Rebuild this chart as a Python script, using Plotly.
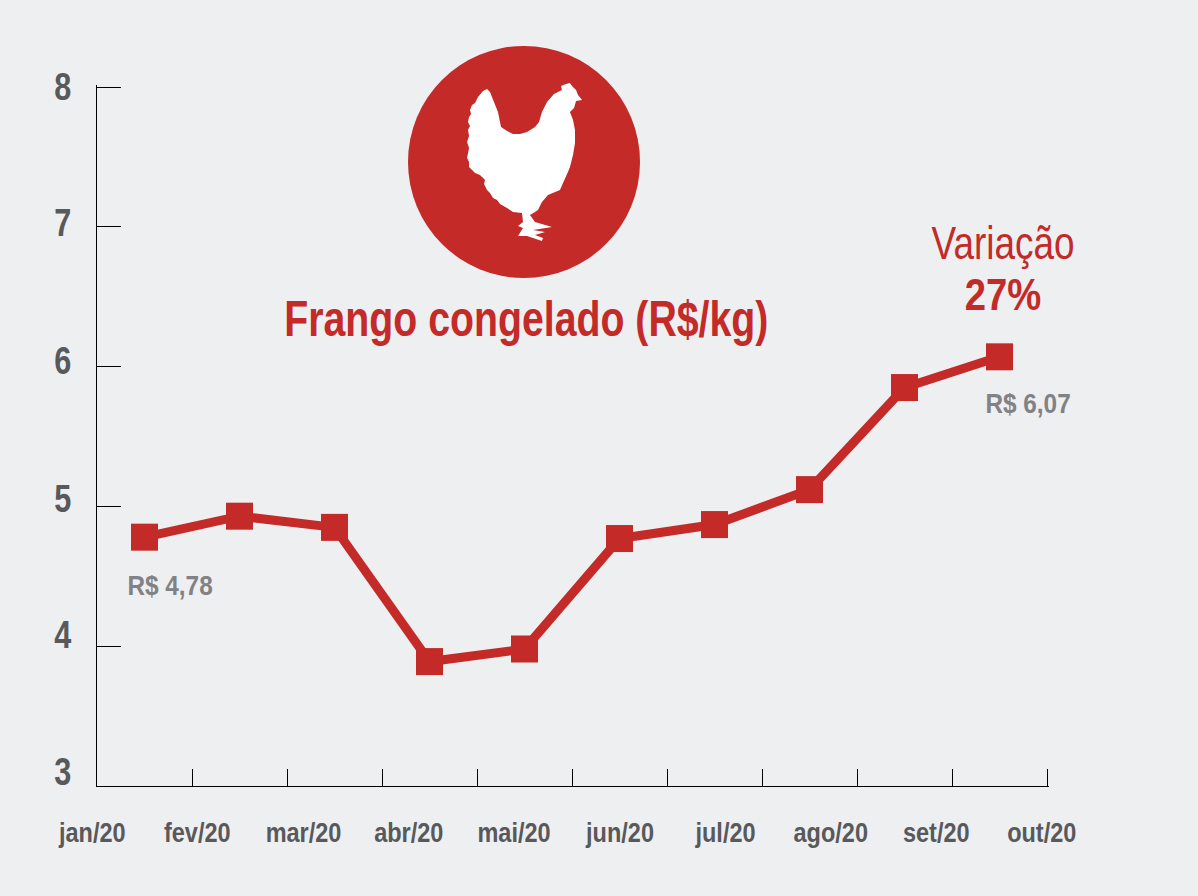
import plotly.graph_objects as go

months = ["jan/20", "fev/20", "mar/20", "abr/20", "mai/20", "jun/20", "jul/20", "ago/20", "set/20", "out/20"]
precos = [4.78, 4.93, 4.85, 3.89, 3.98, 4.77, 4.87, 5.12, 5.85, 6.07]
y_ticks = [3, 4, 5, 6, 7, 8]

RED = "#c32a28"
GREY = "#58595b"
LIGHT_GREY = "#808285"
BG = "#eeeff1"
FONT = "Liberation Sans"

# plot area in page pixels (2px spare at top/right so plotly keeps the end ticks)
L, R, T, B = 97, 1049, 85, 786


def px(x):
    return (x - L) / (R - L)


def py(y):
    return (B - y) / (B - T)


# chicken outline, page pixels, from the tail tip going left
chicken = [(487, 89), (483, 91), (478, 97), (475, 103), (472, 105), (470, 110), (471, 114), (469, 117), (468, 122),
           (470, 126), (468, 130), (469, 136), (467, 142), (469, 148), (467, 158), (469, 162), (469, 167), (475, 173),
           (480, 175), (485, 180), (484, 184), (487, 190), (490, 193), (493, 198), (497, 200), (500, 204), (507, 208),
           (513, 212), (522, 213), (523, 222), (518, 226), (523, 228), (518, 236), (527, 236), (542, 241), (543, 238),
           (535, 235), (545, 232), (533, 230), (552, 227), (535, 222), (530, 215), (535, 212), (538, 210), (542, 202),
           (548, 195), (560, 190), (563, 183), (568, 172), (570, 167), (573, 155), (575, 143), (575, 130), (573, 120),
           (570, 112), (574, 108), (576, 101), (582, 100), (578, 95), (576, 90), (572, 86), (570, 83), (566, 84),
           (561, 86), (562, 90), (554, 94), (547, 102), (542, 112), (539, 122), (535, 127), (527, 132), (520, 134),
           (513, 134), (507, 131), (501, 127), (500, 122), (498, 112), (494, 102), (490, 92)]
chicken_path = "M " + " L ".join(f"{px(a):.4f},{py(b):.4f}" for a, b in chicken) + " Z"

fig = go.Figure()
fig.add_trace(go.Scatter(
    x=months, y=precos, mode="lines+markers",
    line=dict(color=RED, width=9),
    marker=dict(symbol="square", size=27, color=RED),
    hoverinfo="skip", showlegend=False,
))

# circle + chicken
fig.add_shape(type="circle", xref="paper", yref="paper",
              x0=px(408), x1=px(640), y0=py(278), y1=py(46),
              fillcolor=RED, line_width=0, layer="below")
fig.add_shape(type="path", xref="paper", yref="paper", path=chicken_path,
              fillcolor="white", line_width=0, layer="below")


def label(x, y, text, size, color, bold=False):
    fig.add_annotation(xref="paper", yref="paper", x=px(x), y=py(y), text=f"<b>{text}</b>" if bold else text,
                       showarrow=False, xanchor="center", yanchor="middle",
                       font=dict(family=FONT, size=size, color=color))


label(526, 319, "Frango congelado (R$/kg)", 50, RED, True)
label(1003, 243, "Variação", 47, RED)
label(1003, 294, "27%", 45, RED, True)
label(1028, 403, "R$ 6,07", 28, LIGHT_GREY, True)
label(170, 585, "R$ 4,78", 28, LIGHT_GREY, True)

# tick labels sit off the ticks in the original, so placed by hand
for i, m in enumerate(months):
    label(92 + i * 105.5, 833, m, 27, GREY, True)
for v, yy in zip(y_ticks, [771, 634, 498, 360, 223, 86]):
    label(63, yy, str(v), 39, GREY, True)

fig.update_layout(
    width=1198, height=896,
    margin=dict(l=L, r=1198 - R, t=T, b=896 - B),
    paper_bgcolor=BG, plot_bgcolor=BG,
    xaxis=dict(type="category", tickson="boundaries", range=[-0.5, 9.5 + 2 / 95], ticks="inside", ticklen=17,
               tickcolor="black", tickwidth=1, showticklabels=False, showgrid=False, zeroline=False,
               showline=True, linecolor="black", linewidth=1),
    yaxis=dict(range=[3, 8 + 2 / 139.8], tickvals=y_ticks, ticks="inside", ticklen=24, tickcolor="black", tickwidth=1,
               showticklabels=False, showgrid=False, zeroline=False,
               showline=True, linecolor="black", linewidth=1),
)

# no narrow font installed: squeeze the Liberation glyphs, drop the page margin
squeeze = """
document.body.style.margin = 0;
document.querySelectorAll('.annotation-text').forEach(function (t) {
    var size = parseFloat(t.style.fontSize);
    var k = size < 30 ? 0.87 : (size == 45 ? 0.85 : 0.785);
    t.setAttribute('lengthAdjust', 'spacingAndGlyphs');
    t.setAttribute('textLength', t.getComputedTextLength() * k);
});
"""
fig.write_html("out.html", post_script=squeeze, config=dict(displayModeBar=False))
